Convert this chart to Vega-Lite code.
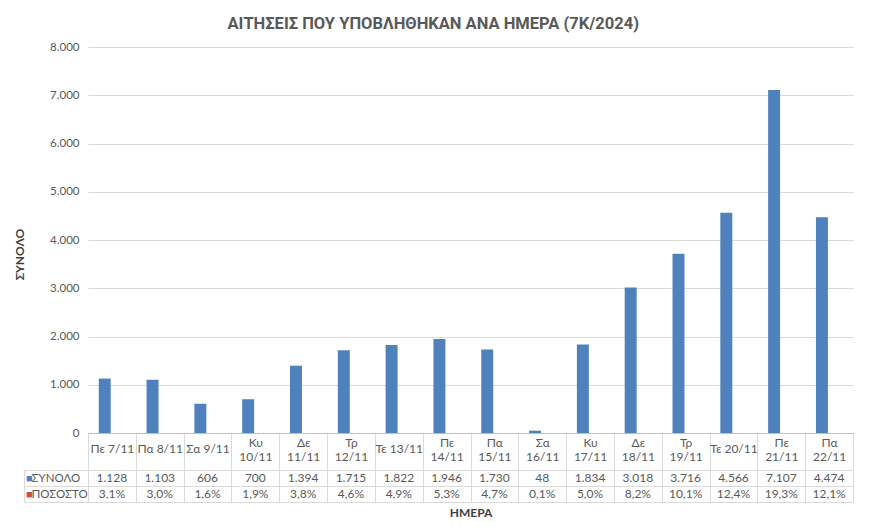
{
  "$schema": "https://vega.github.io/schema/vega-lite/v6.json",
  "padding": {"left": 13, "top": 15, "right": 15, "bottom": 2},
  "config": {
    "locale": {"number": {"decimal": ",", "thousands": ".", "grouping": [3], "currency": ["", " €"]}},
    "view": {"stroke": null},
    "font": "Lato",
    "concat": {"spacing": -6}
  },
  "title": {
    "text": "ΑΙΤΗΣΕΙΣ ΠΟΥ ΥΠΟΒΛΗΘΗΚΑΝ ΑΝΑ ΗΜΕΡΑ (7Κ/2024)",
    "font": "Roboto",
    "fontSize": 16.5,
    "fontWeight": "bold",
    "color": "#595959",
    "anchor": "middle",
    "offset": 9
  },
  "datasets": {
    "d": [
      {"day": "Πε 7/11", "series": "ΣΥΝΟΛΟ", "value": 1128},
      {"day": "Πε 7/11", "series": "ΠΟΣΟΣΤΟ", "value": 0.031},
      {"day": "Πα 8/11", "series": "ΣΥΝΟΛΟ", "value": 1103},
      {"day": "Πα 8/11", "series": "ΠΟΣΟΣΤΟ", "value": 0.030},
      {"day": "Σα 9/11", "series": "ΣΥΝΟΛΟ", "value": 606},
      {"day": "Σα 9/11", "series": "ΠΟΣΟΣΤΟ", "value": 0.016},
      {"day": "Κυ 10/11", "series": "ΣΥΝΟΛΟ", "value": 700},
      {"day": "Κυ 10/11", "series": "ΠΟΣΟΣΤΟ", "value": 0.019},
      {"day": "Δε 11/11", "series": "ΣΥΝΟΛΟ", "value": 1394},
      {"day": "Δε 11/11", "series": "ΠΟΣΟΣΤΟ", "value": 0.038},
      {"day": "Τρ 12/11", "series": "ΣΥΝΟΛΟ", "value": 1715},
      {"day": "Τρ 12/11", "series": "ΠΟΣΟΣΤΟ", "value": 0.046},
      {"day": "Τε 13/11", "series": "ΣΥΝΟΛΟ", "value": 1822},
      {"day": "Τε 13/11", "series": "ΠΟΣΟΣΤΟ", "value": 0.049},
      {"day": "Πε 14/11", "series": "ΣΥΝΟΛΟ", "value": 1946},
      {"day": "Πε 14/11", "series": "ΠΟΣΟΣΤΟ", "value": 0.053},
      {"day": "Πα 15/11", "series": "ΣΥΝΟΛΟ", "value": 1730},
      {"day": "Πα 15/11", "series": "ΠΟΣΟΣΤΟ", "value": 0.047},
      {"day": "Σα 16/11", "series": "ΣΥΝΟΛΟ", "value": 48},
      {"day": "Σα 16/11", "series": "ΠΟΣΟΣΤΟ", "value": 0.001},
      {"day": "Κυ 17/11", "series": "ΣΥΝΟΛΟ", "value": 1834},
      {"day": "Κυ 17/11", "series": "ΠΟΣΟΣΤΟ", "value": 0.050},
      {"day": "Δε 18/11", "series": "ΣΥΝΟΛΟ", "value": 3018},
      {"day": "Δε 18/11", "series": "ΠΟΣΟΣΤΟ", "value": 0.082},
      {"day": "Τρ 19/11", "series": "ΣΥΝΟΛΟ", "value": 3716},
      {"day": "Τρ 19/11", "series": "ΠΟΣΟΣΤΟ", "value": 0.101},
      {"day": "Τε 20/11", "series": "ΣΥΝΟΛΟ", "value": 4566},
      {"day": "Τε 20/11", "series": "ΠΟΣΟΣΤΟ", "value": 0.124},
      {"day": "Πε 21/11", "series": "ΣΥΝΟΛΟ", "value": 7107},
      {"day": "Πε 21/11", "series": "ΠΟΣΟΣΤΟ", "value": 0.193},
      {"day": "Πα 22/11", "series": "ΣΥΝΟΛΟ", "value": 4474},
      {"day": "Πα 22/11", "series": "ΠΟΣΟΣΤΟ", "value": 0.121}
    ]
  },
  "vconcat": [
    {
      "width": 765,
      "height": 386,
      "data": {"name": "d"},
      "mark": {"type": "bar"},
      "encoding": {
        "x": {
          "field": "day", "type": "nominal", "sort": null,
          "scale": {"paddingInner": 0, "paddingOuter": 0},
          "axis": {
            "title": null,
            "domain": true, "domainColor": "#BFBFBF",
            "ticks": true, "tickBand": "extent", "tickSize": 36, "tickColor": "#D9D9D9",
            "grid": false,
            "labelAngle": 0, "labelBaseline": "middle", "labelAlign": "center",
            "labelPadding": {"condition": {"test": "indexof(['Πε 7/11','Πα 8/11','Σα 9/11','Τε 13/11','Τε 20/11'], datum.value) >= 0", "value": -21}, "value": -27},
            "labelFontSize": 12, "labelColor": "#595959",
            "labelLineHeight": 14, "labelOverlap": false, "labelLimit": 0,
            "labelExpr": "!isValid(datum.value) ? '' : (indexof(['Πε 7/11','Πα 8/11','Σα 9/11','Τε 13/11','Τε 20/11'], datum.value) >= 0 ? datum.value : split(datum.value, ' '))"
          }
        },
        "xOffset": {
          "field": "series", "type": "nominal", "sort": ["ΣΥΝΟΛΟ", "ΠΟΣΟΣΤΟ"],
          "scale": {"paddingInner": 0, "paddingOuter": 1.29, "align": 0.45}
        },
        "y": {
          "field": "value", "type": "quantitative",
          "scale": {"domain": [0, 8000], "nice": false},
          "axis": {
            "title": "ΣΥΝΟΛΟ", "titleFontWeight": "bold", "titleFontSize": 12, "titleColor": "#404040",
            "titleX": -62, "titleY": 207, "titleAngle": -90,
            "values": [0, 1000, 2000, 3000, 4000, 5000, 6000, 7000, 8000],
            "format": ",.0f",
            "domain": false, "ticks": false, "labelPadding": 9,
            "labelColor": "#595959", "labelFontSize": 11.5,
            "gridColor": "#D9D9D9"
          }
        },
        "color": {
          "field": "series", "type": "nominal",
          "scale": {"domain": ["ΣΥΝΟΛΟ", "ΠΟΣΟΣΤΟ"], "range": ["#4F81BD", "#C0504D"]},
          "legend": null
        }
      }
    },
    {
      "width": 765,
      "height": 32,
      "data": {"name": "d"},
      "layer": [
        {
          "mark": {"type": "text", "fontSize": 12, "color": "#595959", "baseline": "middle"},
          "encoding": {
            "x": {
              "field": "day", "type": "nominal", "sort": null,
              "scale": {"paddingInner": 0, "paddingOuter": 0},
              "axis": {
                "title": "ΗΜΕΡΑ", "titleFontWeight": "bold", "titleFontSize": 12, "titleColor": "#404040",
                "titlePadding": 5,
                "labels": false, "ticks": false, "domain": false,
                "grid": true, "tickBand": "extent", "gridColor": "#D9D9D9"
              }
            },
            "y": {
              "field": "series", "type": "nominal", "sort": ["ΣΥΝΟΛΟ", "ΠΟΣΟΣΤΟ"],
              "scale": {"paddingInner": 0, "paddingOuter": 0},
              "axis": {
                "title": null,
                "grid": true, "tickBand": "extent", "gridColor": "#D9D9D9",
                "ticks": true, "tickSize": 64, "tickColor": "#D9D9D9",
                "domain": true, "domainColor": "#D9D9D9",
                "labelAlign": "left", "labelBaseline": "middle", "labelPadding": -7,
                "labelExpr": "isValid(datum.value) ? datum.value : ''",
                "labelColor": "#595959", "labelFontSize": 11.5
              }
            },
            "text": {
              "condition": {"test": "datum.series === 'ΠΟΣΟΣΤΟ'", "field": "value", "type": "quantitative", "format": ".1%"},
              "field": "value", "type": "quantitative", "format": ","
            }
          }
        },
        {
          "mark": {"type": "text", "opacity": 0},
          "encoding": {
            "y": {
              "field": "series", "type": "nominal", "sort": ["ΣΥΝΟΛΟ", "ΠΟΣΟΣΤΟ"],
              "scale": {"paddingInner": 0, "paddingOuter": 0},
              "axis": {
                "orient": "left", "offset": 64, "title": null,
                "domain": true, "domainColor": "#D9D9D9",
                "ticks": false, "tickSize": 0, "grid": false,
                "labelExpr": "'■'", "labelAlign": "left", "labelBaseline": "middle", "labelPadding": -1.5,
                "labelFontSize": 11,
                "labelColor": {"condition": {"test": "datum.value === 'ΣΥΝΟΛΟ'", "value": "#4F81BD"}, "value": "#C0504D"}
              }
            },
            "text": {"value": ""}
          }
        }
      ],
      "resolve": {"scale": {"y": "independent"}}
    }
  ]
}
